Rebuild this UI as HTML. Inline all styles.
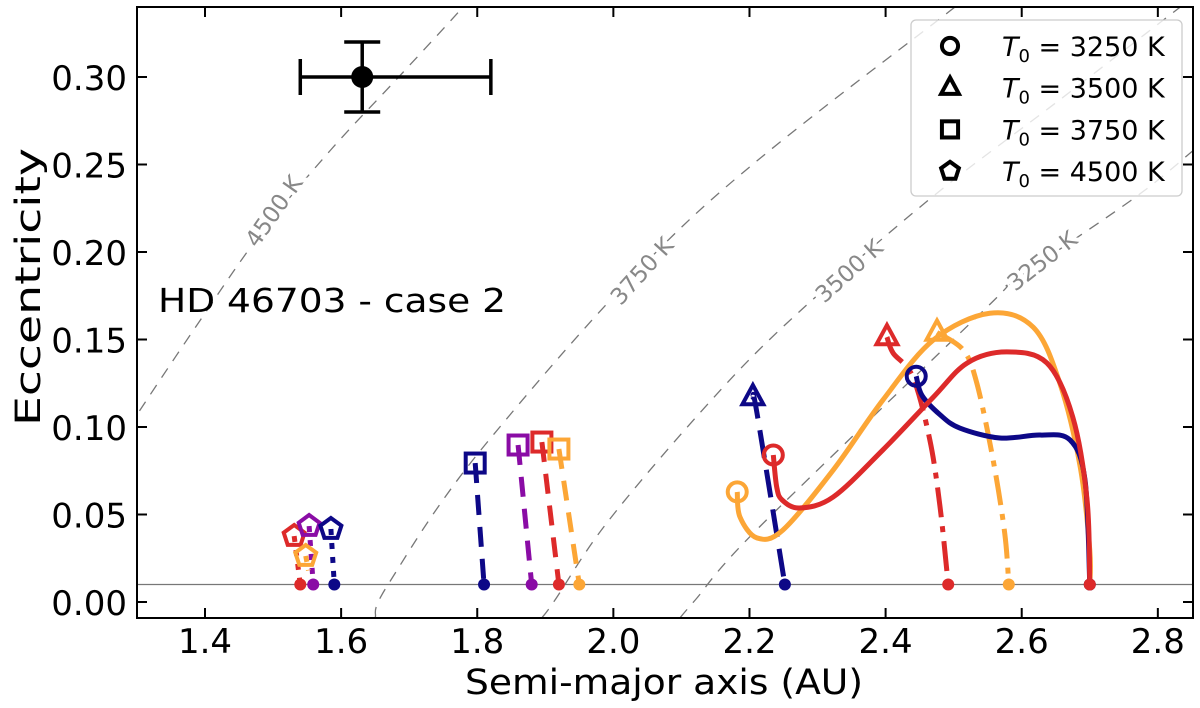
<!DOCTYPE html>
<html><head><meta charset="utf-8"><style>
html,body{margin:0;padding:0;background:#fff}
svg{display:block;font-family:"DejaVu Sans","Liberation Sans",sans-serif}
</style></head><body>
<svg id="chart" width="1200" height="708" viewBox="0 0 1200 708" xmlns="http://www.w3.org/2000/svg">
<defs><clipPath id="plotclip"><rect x="137" y="7" width="1056" height="611"/></clipPath></defs>
<rect width="1200" height="708" fill="#fff"/>
<g id="refs" clip-path="url(#plotclip)"></g>
<g id="series" clip-path="url(#plotclip)"></g>
<g id="axes"></g>
<text x="158" y="312" font-size="33" fill="#000" textLength="348" lengthAdjust="spacingAndGlyphs">HD 46703 - case 2</text>
<text x="664" y="694" font-size="35" text-anchor="middle" textLength="398" lengthAdjust="spacingAndGlyphs">Semi-major axis (AU)</text>
<text transform="translate(40,287) rotate(-90)" font-size="35" text-anchor="middle" textLength="278" lengthAdjust="spacingAndGlyphs">Eccentricity</text>
<g id="legend"></g>
</svg>
<script>
// ---- data ----
const xTicks = [1.4, 1.6, 1.8, 2.0, 2.2, 2.4, 2.6, 2.8];
const xTickLabels = ["1.4","1.6","1.8","2.0","2.2","2.4","2.6","2.8"];
const yTicks = [0.00, 0.05, 0.10, 0.15, 0.20, 0.25, 0.30];
const yTickLabels = ["0.00","0.05","0.10","0.15","0.20","0.25","0.30"];

const obsX = 1.631, obsY = 0.30, obsXLo = 1.54, obsXHi = 1.82, obsYErr = 0.02;
const floorE = 0.01;

// reference iso-temperature curves
const ref4500X = [1.29, 1.300, 1.393, 1.481, 1.584, 1.687, 1.779, 1.79];
const ref4500Y = [0.10, 0.107, 0.161, 0.210, 0.258, 0.301, 0.340, 0.347];
const ref3750X = [1.650, 1.669, 1.814, 2.116, 2.492, 2.509];
const ref3750Y = [-0.009, 0.010, 0.091, 0.220, 0.337, 0.340];
const ref3500X = [1.895, 1.914, 1.990, 2.127, 2.254, 2.464, 2.656, 2.833];
const ref3500Y = [-0.009, 0.001, 0.045, 0.108, 0.159, 0.230, 0.287, 0.340];
const ref3250X = [2.098, 2.120, 2.215, 2.553, 2.583, 2.766, 2.852];
const ref3250Y = [-0.009, 0.001, 0.043, 0.170, 0.182, 0.231, 0.258];

// evolution tracks
const blueCircX = [2.445, 2.4535, 2.480, 2.509, 2.568, 2.627, 2.671, 2.693, 2.70];
const blueCircY = [0.129, 0.118, 0.107, 0.0994, 0.0937, 0.0954, 0.0926, 0.0697, 0.01];
const redCircX = [2.235, 2.240, 2.248, 2.274, 2.323, 2.396, 2.470, 2.520, 2.578, 2.637, 2.675, 2.696, 2.70];
const redCircY = [0.084, 0.0657, 0.0583, 0.0537, 0.060, 0.0869, 0.117, 0.1366, 0.1429, 0.1366, 0.1057, 0.0583, 0.01];
const orgCircX = [2.182, 2.186, 2.211, 2.249, 2.323, 2.396, 2.470, 2.553, 2.617, 2.656, 2.686, 2.700, 2.70];
const orgCircY = [0.0629, 0.0486, 0.0366, 0.0411, 0.0754, 0.1154, 0.1497, 0.165, 0.157, 0.125, 0.0771, 0.0297, 0.01];
const blueTriX = [2.205, 2.211, 2.252];
const blueTriY = [0.1171, 0.108, 0.01];
const redTriX = [2.402, 2.411, 2.440, 2.465, 2.480, 2.492];
const redTriY = [0.1514, 0.1423, 0.1286, 0.0926, 0.0543, 0.01];
const orgTriX = [2.4755, 2.514, 2.534, 2.558, 2.575, 2.581];
const orgTriY = [0.154, 0.144, 0.1251, 0.0811, 0.0394, 0.01];
const blueSqX = [1.797, 1.810]; const blueSqY = [0.0794, 0.01];
const purpSqX = [1.860, 1.880]; const purpSqY = [0.0897, 0.01];
const redSqX = [1.895, 1.920];  const redSqY = [0.0914, 0.01];
const orgSqX = [1.920, 1.950];  const orgSqY = [0.0874, 0.01];
const redPentX = [1.531, 1.540]; const redPentY = [0.0377, 0.01];
const purpPentX = [1.553, 1.559]; const purpPentY = [0.0434, 0.01];
const bluePentX = [1.585, 1.590]; const bluePentY = [0.0417, 0.01];
const orgPentX = [1.548, 1.552]; const orgPentY = [0.0263, 0.018];

const NAVY="#0d0887", PURP="#8a0ca5", RED="#dd2a2a", ORG="#fca636";
const series = [
 {n:"track-3750-blue",x:blueSqX,y:blueSqY,c:NAVY,d:"20,12",m:"square",dot:true},
 {n:"track-3750-purple",x:purpSqX,y:purpSqY,c:PURP,d:"20,12",m:"square",dot:true},
 {n:"track-3750-red",x:redSqX,y:redSqY,c:RED,d:"20,12",m:"square",dot:true},
 {n:"track-3750-orange",x:orgSqX,y:orgSqY,c:ORG,d:"20,12",m:"square",dot:true},
 {n:"track-4500-red",x:redPentX,y:redPentY,c:RED,d:"6,8",m:"pent",dot:true},
 {n:"track-4500-purple",x:purpPentX,y:purpPentY,c:PURP,d:"6,8",m:"pent",dot:true},
 {n:"track-4500-blue",x:bluePentX,y:bluePentY,c:NAVY,d:"6,8",m:"pent",dot:true},
 {n:"track-4500-orange",x:orgPentX,y:orgPentY,c:ORG,d:"6,8",m:"pent",dot:false},
 {n:"track-3500-blue",x:blueTriX,y:blueTriY,c:NAVY,d:"28,12",m:"tri",dot:true},
 {n:"track-3500-red",x:redTriX,y:redTriY,c:RED,d:"30,9,6,9",m:"tri",dot:true},
 {n:"track-3500-orange",x:orgTriX,y:orgTriY,c:ORG,d:"30,9,6,9",m:"tri",dot:true},
 {n:"track-3250-orange",x:orgCircX,y:orgCircY,c:ORG,d:null,m:"circ",dot:true},
 {n:"track-3250-blue",x:blueCircX,y:blueCircY,c:NAVY,d:null,m:"circ",dot:true},
 {n:"track-3250-red",x:redCircX,y:redCircY,c:RED,d:null,m:"circ",dot:true}
];

// ---- scales ----
const X0=137, X1=1193, Y0=7, Y1=618;
const sx = v => 205 + (v-1.4)*680.6;
const sy = v => 602 - v*1750;
const NS="http://www.w3.org/2000/svg";
function mk(tag, attrs, parent){const e=document.createElementNS(NS,tag);for(const k in attrs)e.setAttribute(k,attrs[k]);parent.appendChild(e);return e;}
function smooth(xs, ys){
  const p = xs.map((v,i)=>[sx(v), sy(ys[i])]);
  if(p.length<3) return "M"+p.map(q=>q.join(",")).join("L");
  let d="M"+p[0][0]+","+p[0][1];
  for(let i=0;i<p.length-1;i++){
    const a=p[Math.max(i-1,0)], b=p[i], c=p[i+1], e=p[Math.min(i+2,p.length-1)];
    const c1=[b[0]+(c[0]-a[0])/6, b[1]+(c[1]-a[1])/6];
    const c2=[c[0]-(e[0]-b[0])/6, c[1]-(e[1]-b[1])/6];
    d+="C"+c1.join(",")+" "+c2.join(",")+" "+c.join(",");
  }
  return d;
}
function marker(type, cx, cy, color, parent, s){
  s = s||1;
  const st={fill:"none",stroke:color,"stroke-width":4};
  let el;
  if(type==="circ") el=mk("circle",Object.assign({cx:cx,cy:cy,r:9.5*s},st),parent);
  else if(type==="square") el=mk("rect",Object.assign({x:cx-9.5*s,y:cy-9.5*s,width:19*s,height:19*s},st),parent);
  else if(type==="tri"){const r=12*s;el=mk("polygon",Object.assign({points:`${cx},${cy-r} ${cx+r*0.87},${cy+r*0.6} ${cx-r*0.87},${cy+r*0.6}`,"stroke-linejoin":"miter"},st),parent);}
  else {const r=11*s;let pts=[];for(let k=0;k<5;k++){const a=-Math.PI/2+k*2*Math.PI/5;pts.push((cx+r*Math.cos(a)).toFixed(1)+","+(cy+r*Math.sin(a)).toFixed(1));}el=mk("polygon",Object.assign({points:pts.join(" ")},st),parent);}
  return el;
}

// reference lines
const refs=document.getElementById("refs");
const refList=[["4500 K",ref4500X,ref4500Y,275,212,-55],["3750 K",ref3750X,ref3750Y,643,272,-48],["3500 K",ref3500X,ref3500Y,850,272,-42],["3250 K",ref3250X,ref3250Y,1043,262,-38]];
refList.forEach(r=>{
  const p=mk("path",{d:smooth(r[1],r[2]),fill:"none",stroke:"#777","stroke-width":1.3,"stroke-dasharray":"11,9"},refs);
  
  
  const t=mk("text",{x:r[3],y:r[4],"font-size":23,fill:"#888","text-anchor":"middle","dominant-baseline":"middle",transform:`rotate(${r[5]},${r[3]},${r[4]})`,stroke:"#fff","stroke-width":8,"paint-order":"stroke"},refs);
  t.textContent=r[0];
  
  
});
const fl=mk("line",{x1:X0,x2:X1,y1:sy(floorE),y2:sy(floorE),stroke:"#777","stroke-width":1.3},refs);



// series
const sg=document.getElementById("series");
series.forEach(s=>{
  const g=mk("g",{},sg);
  
  
  const a={d:smooth(s.x,s.y),fill:"none",stroke:s.c,"stroke-width":5};
  if(s.d) a["stroke-dasharray"]=s.d;
  const p=mk("path",a,g);
  
  
  const m=marker(s.m,sx(s.x[0]),sy(s.y[0]),s.c,g);
  
  
  if(s.dot){
    const d=mk("circle",{cx:sx(s.x[s.x.length-1]),cy:sy(s.y[s.y.length-1]),r:6,fill:s.c},g);
    
    
  }
});

// observed point
const ob=mk("g",{stroke:"#000","stroke-width":3.5},sg);


mk("line",{x1:sx(obsXLo),x2:sx(obsXHi),y1:sy(obsY),y2:sy(obsY)},ob);
mk("line",{x1:sx(obsX),x2:sx(obsX),y1:sy(obsY-obsYErr),y2:sy(obsY+obsYErr)},ob);
mk("line",{x1:sx(obsXLo),x2:sx(obsXLo),y1:sy(obsY)-18,y2:sy(obsY)+18},ob);
mk("line",{x1:sx(obsXHi),x2:sx(obsXHi),y1:sy(obsY)-18,y2:sy(obsY)+18},ob);
mk("line",{x1:sx(obsX)-18,x2:sx(obsX)+18,y1:sy(obsY+obsYErr),y2:sy(obsY+obsYErr)},ob);
mk("line",{x1:sx(obsX)-18,x2:sx(obsX)+18,y1:sy(obsY-obsYErr),y2:sy(obsY-obsYErr)},ob);
mk("circle",{cx:sx(obsX),cy:sy(obsY),r:11,fill:"#000",stroke:"none"},ob);

// axes
const ax=document.getElementById("axes");
const fr=mk("rect",{x:X0,y:Y0,width:X1-X0,height:Y1-Y0,fill:"none",stroke:"#000","stroke-width":2},ax);


xTicks.forEach((v,i)=>{
  const x=sx(v);
  mk("line",{x1:x,x2:x,y1:Y1,y2:Y1-10,stroke:"#000","stroke-width":2},ax);
  mk("line",{x1:x,x2:x,y1:Y0,y2:Y0+10,stroke:"#000","stroke-width":2},ax);
  const t=mk("text",{x:x,y:653,"font-size":34,"text-anchor":"middle"},ax);
  t.textContent=xTickLabels[i];
  
  
});
yTicks.forEach((v,i)=>{
  const y=sy(v);
  mk("line",{x1:X0,x2:X0+10,y1:y,y2:y,stroke:"#000","stroke-width":2},ax);
  mk("line",{x1:X1,x2:X1-10,y1:y,y2:y,stroke:"#000","stroke-width":2},ax);
  const t=mk("text",{x:127,y:y+13,"font-size":34,"text-anchor":"end"},ax);
  t.textContent=yTickLabels[i];
  
  
});

// legend
const lg=document.getElementById("legend");
mk("rect",{x:911,y:20,width:271,height:176,rx:5,fill:"#fff","fill-opacity":0.8,stroke:"#ccc","stroke-width":1.3},lg);
const legT=["3250","3500","3750","4500"], legM=["circ","tri","square","pent"];
legT.forEach((t,i)=>{
  const y=46+i*41.7;
  const g=mk("g",{},lg);
  
  
  marker(legM[i],950,y,"#000",g,0.85);
  const tx=mk("text",{x:1002,y:y+10,"font-size":27},g);
  tx.innerHTML=`<tspan font-style="italic">T</tspan><tspan font-size="18" dy="6">0</tspan><tspan dy="-6"> = ${t} K</tspan>`;
});
</script>
</body></html>
